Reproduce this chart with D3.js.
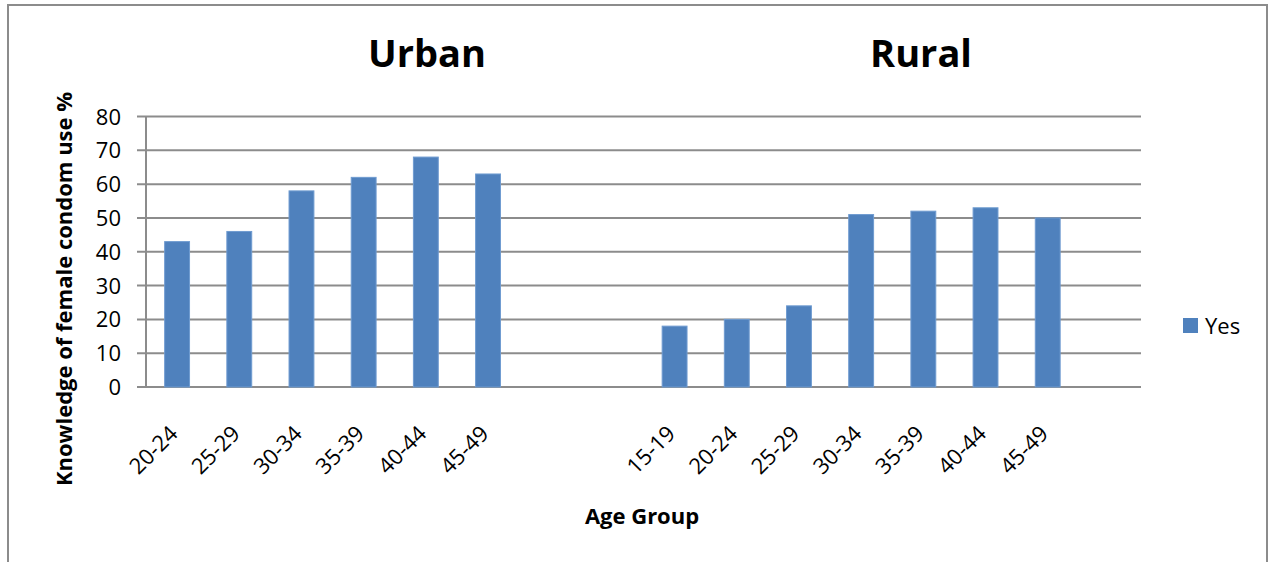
<!DOCTYPE html>
<html lang="en">
<head>
  <meta charset="UTF-8">
  <title>Female condom knowledge by age group</title>
  <script src="https://d3js.org/d3.v7.min.js"></script>
  <style>
    body { margin: 0; background: #fff; }
    text { font-family: "Open Sans", sans-serif; fill: #000; }
    .grid line { stroke: #8c8c8c; stroke-width: 2px; }
    .title { font-size: 38px; font-weight: bold; }
    .axis-title { font-size: 22px; font-weight: bold; }
    .tick-label { font-size: 22px; }
  </style>
</head>
<body>
<svg id="chart" width="1268" height="562"></svg>
<script>
  // data
  const urbanAges = ["20-24", "25-29", "30-34", "35-39", "40-44", "45-49"];
  const urbanYes  = [43, 46, 58, 62, 68, 63];
  const ruralAges = ["15-19", "20-24", "25-29", "30-34", "35-39", "40-44", "45-49"];
  const ruralYes  = [18, 20, 24, 51, 52, 53, 50];
  const yTicks = [0, 10, 20, 30, 40, 50, 60, 70, 80];

  // one band per slot; Excel left 2 empty slots between groups and 1 at the end
  const slots = [];
  urbanAges.forEach((a, i) => slots.push({ key: "u" + i, label: a, value: urbanYes[i] }));
  slots.push({ key: "gap1", label: "", value: null });
  slots.push({ key: "gap2", label: "", value: null });
  ruralAges.forEach((a, i) => slots.push({ key: "r" + i, label: a, value: ruralYes[i] }));
  slots.push({ key: "gap3", label: "", value: null });

  const svg = d3.select("#chart");
  const plot = { left: 146, right: 1141, top: 116.5, bottom: 387 };

  // outer frame of the chart area
  svg.append("path")
     .attr("d", "M8,562 V5 H1267 V562")
     .attr("fill", "none").attr("stroke", "#8c8c8c").attr("stroke-width", 2);

  const x = d3.scaleBand().domain(slots.map(d => d.key)).range([plot.left, plot.right]).paddingInner(0);
  const y = d3.scaleLinear().domain([0, 80]).range([plot.bottom, plot.top]);
  const barW = x.bandwidth() / 2.5;   // gap width 150%

  // gridlines + left ticks
  const grid = svg.append("g").attr("class", "grid");
  grid.selectAll("line.h").data(yTicks).join("line")
      .attr("class", "h")
      .attr("x1", plot.left - 9).attr("x2", plot.right)
      .attr("y1", d => y(d)).attr("y2", d => y(d));
  grid.append("line").attr("x1", plot.left).attr("x2", plot.left).attr("y1", plot.top).attr("y2", plot.bottom);

  svg.selectAll("text.ylab").data(yTicks).join("text")
     .attr("class", "tick-label ylab")
     .attr("x", 121).attr("y", d => y(d) + 8)
     .attr("text-anchor", "end")
     .text(d => d);

  // bars
  svg.selectAll("rect.bar").data(slots.filter(d => d.value !== null)).join("rect")
     .attr("class", "bar")
     .attr("x", d => x(d.key) + (x.bandwidth() - barW) / 2)
     .attr("width", barW)
     .attr("y", d => y(d.value))
     .attr("height", d => y(0) - y(d.value))
     .attr("fill", "#4f81bd")
     .attr("stroke", "#6f9bd0").attr("stroke-width", 1);

  // rotated category labels
  svg.selectAll("text.xlab").data(slots.filter(d => d.label)).join("text")
     .attr("class", "tick-label xlab")
     .attr("text-anchor", "end")
     .attr("transform", d => `translate(${x(d.key) + x.bandwidth() / 2 + 2},${plot.bottom + 48}) rotate(-45)`)
     .text(d => d.label);

  // group titles
  svg.append("text").attr("class", "title").attr("x", 427).attr("y", 67)
     .attr("text-anchor", "middle").text("Urban");
  svg.append("text").attr("class", "title").attr("x", 921).attr("y", 67)
     .attr("text-anchor", "middle").text("Rural");

  // axis titles
  svg.append("text").attr("class", "axis-title")
     .attr("transform", "translate(72,289) rotate(-90)")
     .attr("text-anchor", "middle")
     .text("Knowledge of female condom use %");
  svg.append("text").attr("class", "axis-title")
     .attr("x", 642).attr("y", 524).attr("text-anchor", "middle")
     .text("Age Group");

  // legend
  svg.append("rect").attr("x", 1183).attr("y", 318).attr("width", 15).attr("height", 15)
     .attr("fill", "#4f81bd");
  svg.append("text").attr("class", "tick-label").attr("x", 1205).attr("y", 334).text("Yes");
</script>
</body>
</html>
